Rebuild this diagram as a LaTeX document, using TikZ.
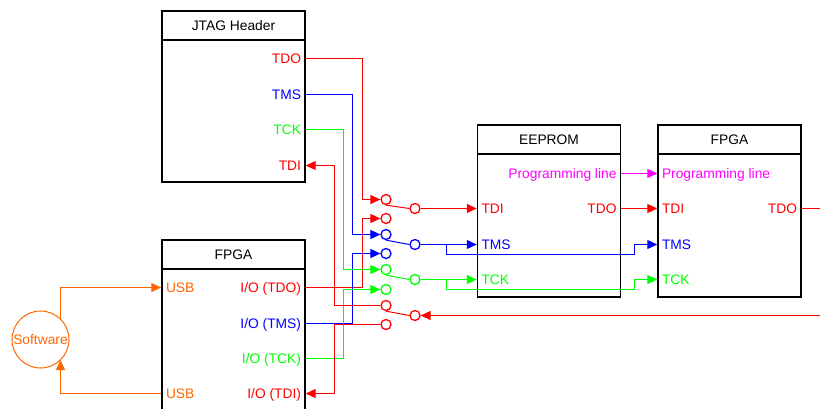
\documentclass[tikz,border=0pt]{standalone}
\usepackage{fontspec}
\setmainfont{Liberation Sans}
\usetikzlibrary{arrows.meta,positioning}
\definecolor{wireorange}{HTML}{FF6600}
\definecolor{wirered}{HTML}{FF0000}
\definecolor{wireblue}{HTML}{0000FF}
\definecolor{wiregreen}{HTML}{00FF00}
\definecolor{wirepink}{HTML}{FF00FF}

\begin{document}
\begin{tikzpicture}[x=1pt, y=-1pt, >={Triangle[length=10pt,width=9pt]},
  box/.style={draw, line width=1.4pt, minimum width=143pt, inner sep=0pt},
  head/.style={box, minimum height=29pt, font=\fontsize{13.8}{16}\selectfont, anchor=north},
  port/.style={font=\fontsize{13.8}{16}\selectfont, inner xsep=4.5pt, inner ysep=0pt, text height=10pt, text depth=0pt},
  portl/.style={port, anchor=west},
  portr/.style={port, anchor=east},
  sw/.style={circle, draw, line width=1.3pt, minimum size=10pt, inner sep=0pt},
  wire/.style={line width=1pt}]
\clip (0,0) rectangle (820,408);
\node[box, minimum height=171pt] (jtag) at (233.5,96.5) {};
\node[head] (jtagH) at (jtag.north) {JTAG Header};
\node[box, minimum height=190pt] (fpgaA) at (233.5,335) {};
\node[head] (fpgaAH) at (fpgaA.north) {FPGA};
\node[box, minimum height=172pt] (eep) at (549,211) {};
\node[head] (eepH) at (eep.north) {EEPROM};
\node[box, minimum height=172pt] (fpgaB) at (729.5,211) {};
\node[head] (fpgaBH) at (fpgaB.north) {FPGA};
\node[circle, draw=wireorange, text=wireorange, line width=1pt, minimum size=57pt, inner sep=0pt, font=\fontsize{13.8}{16}\selectfont] (soft) at (40.5,339.5) {Software};
% ports
\node[portr, wirered] (jtagTDO) at (jtag.east |- 0,58.5) {TDO};
\node[portr, wireblue] (jtagTMS) at (jtag.east |- 0,94.5) {TMS};
\node[portr, wiregreen] (jtagTCK) at (jtag.east |- 0,129.5) {TCK};
\node[portr, wirered] (jtagTDI) at (jtag.east |- 0,165.5) {TDI};
\node[portl, wireorange] (usbA) at (fpgaA.west |- 0,287.5) {USB};
\node[portl, wireorange] (usbB) at (fpgaA.west |- 0,393.5) {USB};
\node[portr, wirered] (fpgaATDO) at (fpgaA.east |- 0,287.5) {I/O (TDO)};
\node[portr, wireblue] (fpgaATMS) at (fpgaA.east |- 0,323.5) {I/O (TMS)};
\node[portr, wiregreen] (fpgaATCK) at (fpgaA.east |- 0,358.5) {I/O (TCK)};
\node[portr, wirered] (fpgaATDI) at (fpgaA.east |- 0,393.5) {I/O (TDI)};
\node[portr, wirepink] (eepProg) at (eep.east |- 0,173.5) {Programming line};
\node[portl, wirered] (eepTDI) at (eep.west |- 0,208.5) {TDI};
\node[portr, wirered] (eepTDO) at (eep.east |- 0,208.5) {TDO};
\node[portl, wireblue] (eepTMS) at (eep.west |- 0,244.5) {TMS};
\node[portl, wiregreen] (eepTCK) at (eep.west |- 0,279.5) {TCK};
\node[portl, wirepink] (fpgaBProg) at (fpgaB.west |- 0,173.5) {Programming line};
\node[portl, wirered] (fpgaBTDI) at (fpgaB.west |- 0,208.5) {TDI};
\node[portr, wirered] (fpgaBTDO) at (fpgaB.east |- 0,208.5) {TDO};
\node[portl, wireblue] (fpgaBTMS) at (fpgaB.west |- 0,244.5) {TMS};
\node[portl, wiregreen] (fpgaBTCK) at (fpgaB.west |- 0,279.5) {TCK};
% switches
\node[sw, wirered] (s1) at (386,199.5) {};
\node[sw, wirered] (s2) at (386,218.5) {};
\node[sw, wireblue] (s3) at (386,234.5) {};
\node[sw, wireblue] (s4) at (386,253.5) {};
\node[sw, wiregreen] (s5) at (386,269.5) {};
\node[sw, wiregreen] (s6) at (386,289.5) {};
\node[sw, wirered] (s7) at (386,305.5) {};
\node[sw, wirered] (s8) at (386,324.5) {};
\node[sw, wirered] (r1) at (415,208.5) {};
\node[sw, wireblue] (r2) at (415,244.5) {};
\node[sw, wiregreen] (r3) at (415,279.5) {};
\node[sw, wirered] (r4) at (415,315.5) {};
\coordinate (tdoEnd) at (820,208.5);
\coordinate (tdiEnd) at (820,315.5);
\coordinate (tmsBr) at (446.5,244.5);
\coordinate (tckBr) at (446.5,279.5);
% wires
\foreach \src/\dst/\col/\bx in {jtagTDO/s1/wirered/362.5, fpgaATDO/s2/wirered/362.5,
    jtagTMS/s3/wireblue/352.5, fpgaATMS/s4/wireblue/352.5,
    jtagTCK/s5/wiregreen/343.5, fpgaATCK/s6/wiregreen/343.5} {
  \draw[wire, ->, \col] (\src.east) -| (\bx,0 |- \dst) -- (\dst.west);
}
\foreach \src/\dst in {s7/jtagTDI, s8/fpgaATDI} {
  \draw[wire, ->, wirered] (\src.west) -| (334.5,0 |- \dst) -- (\dst.east);
}
\foreach \a/\b/\col in {s1/r1/wirered, s3/r2/wireblue, s5/r3/wiregreen, s7/r4/wirered} {
  \draw[wire, \col] (\a.south) -- (\b.west);
}
\draw[wire, ->, wirered] (r1.east) -- (eepTDI.west);
\draw[wire, ->, wireblue] (r2.east) -- (eepTMS.west);
\draw[wire, ->, wiregreen] (r3.east) -- (eepTCK.west);
\draw[wire, wireblue, ->] (tmsBr) |- (634.5,254.5) |- (fpgaBTMS.west);
\draw[wire, wiregreen, ->] (tckBr) |- (634.5,289.5) |- (fpgaBTCK.west);
\draw[wire, ->, wirepink] (eepProg.east) -- (fpgaBProg.west);
\draw[wire, ->, wirered] (eepTDO.east) -- (fpgaBTDI.west);
\draw[wire, wirered] (fpgaBTDO.east) -- (tdoEnd);
\draw[wire, ->, wirered] (tdiEnd) -- (r4.east);
\draw[wire, ->, wireorange] (60.5,0 |- soft.45) |- (usbA.west);
\draw[wire, ->, wireorange] (usbB.west) -| (60.5,0 |- soft.315);
\end{tikzpicture}
\end{document}
